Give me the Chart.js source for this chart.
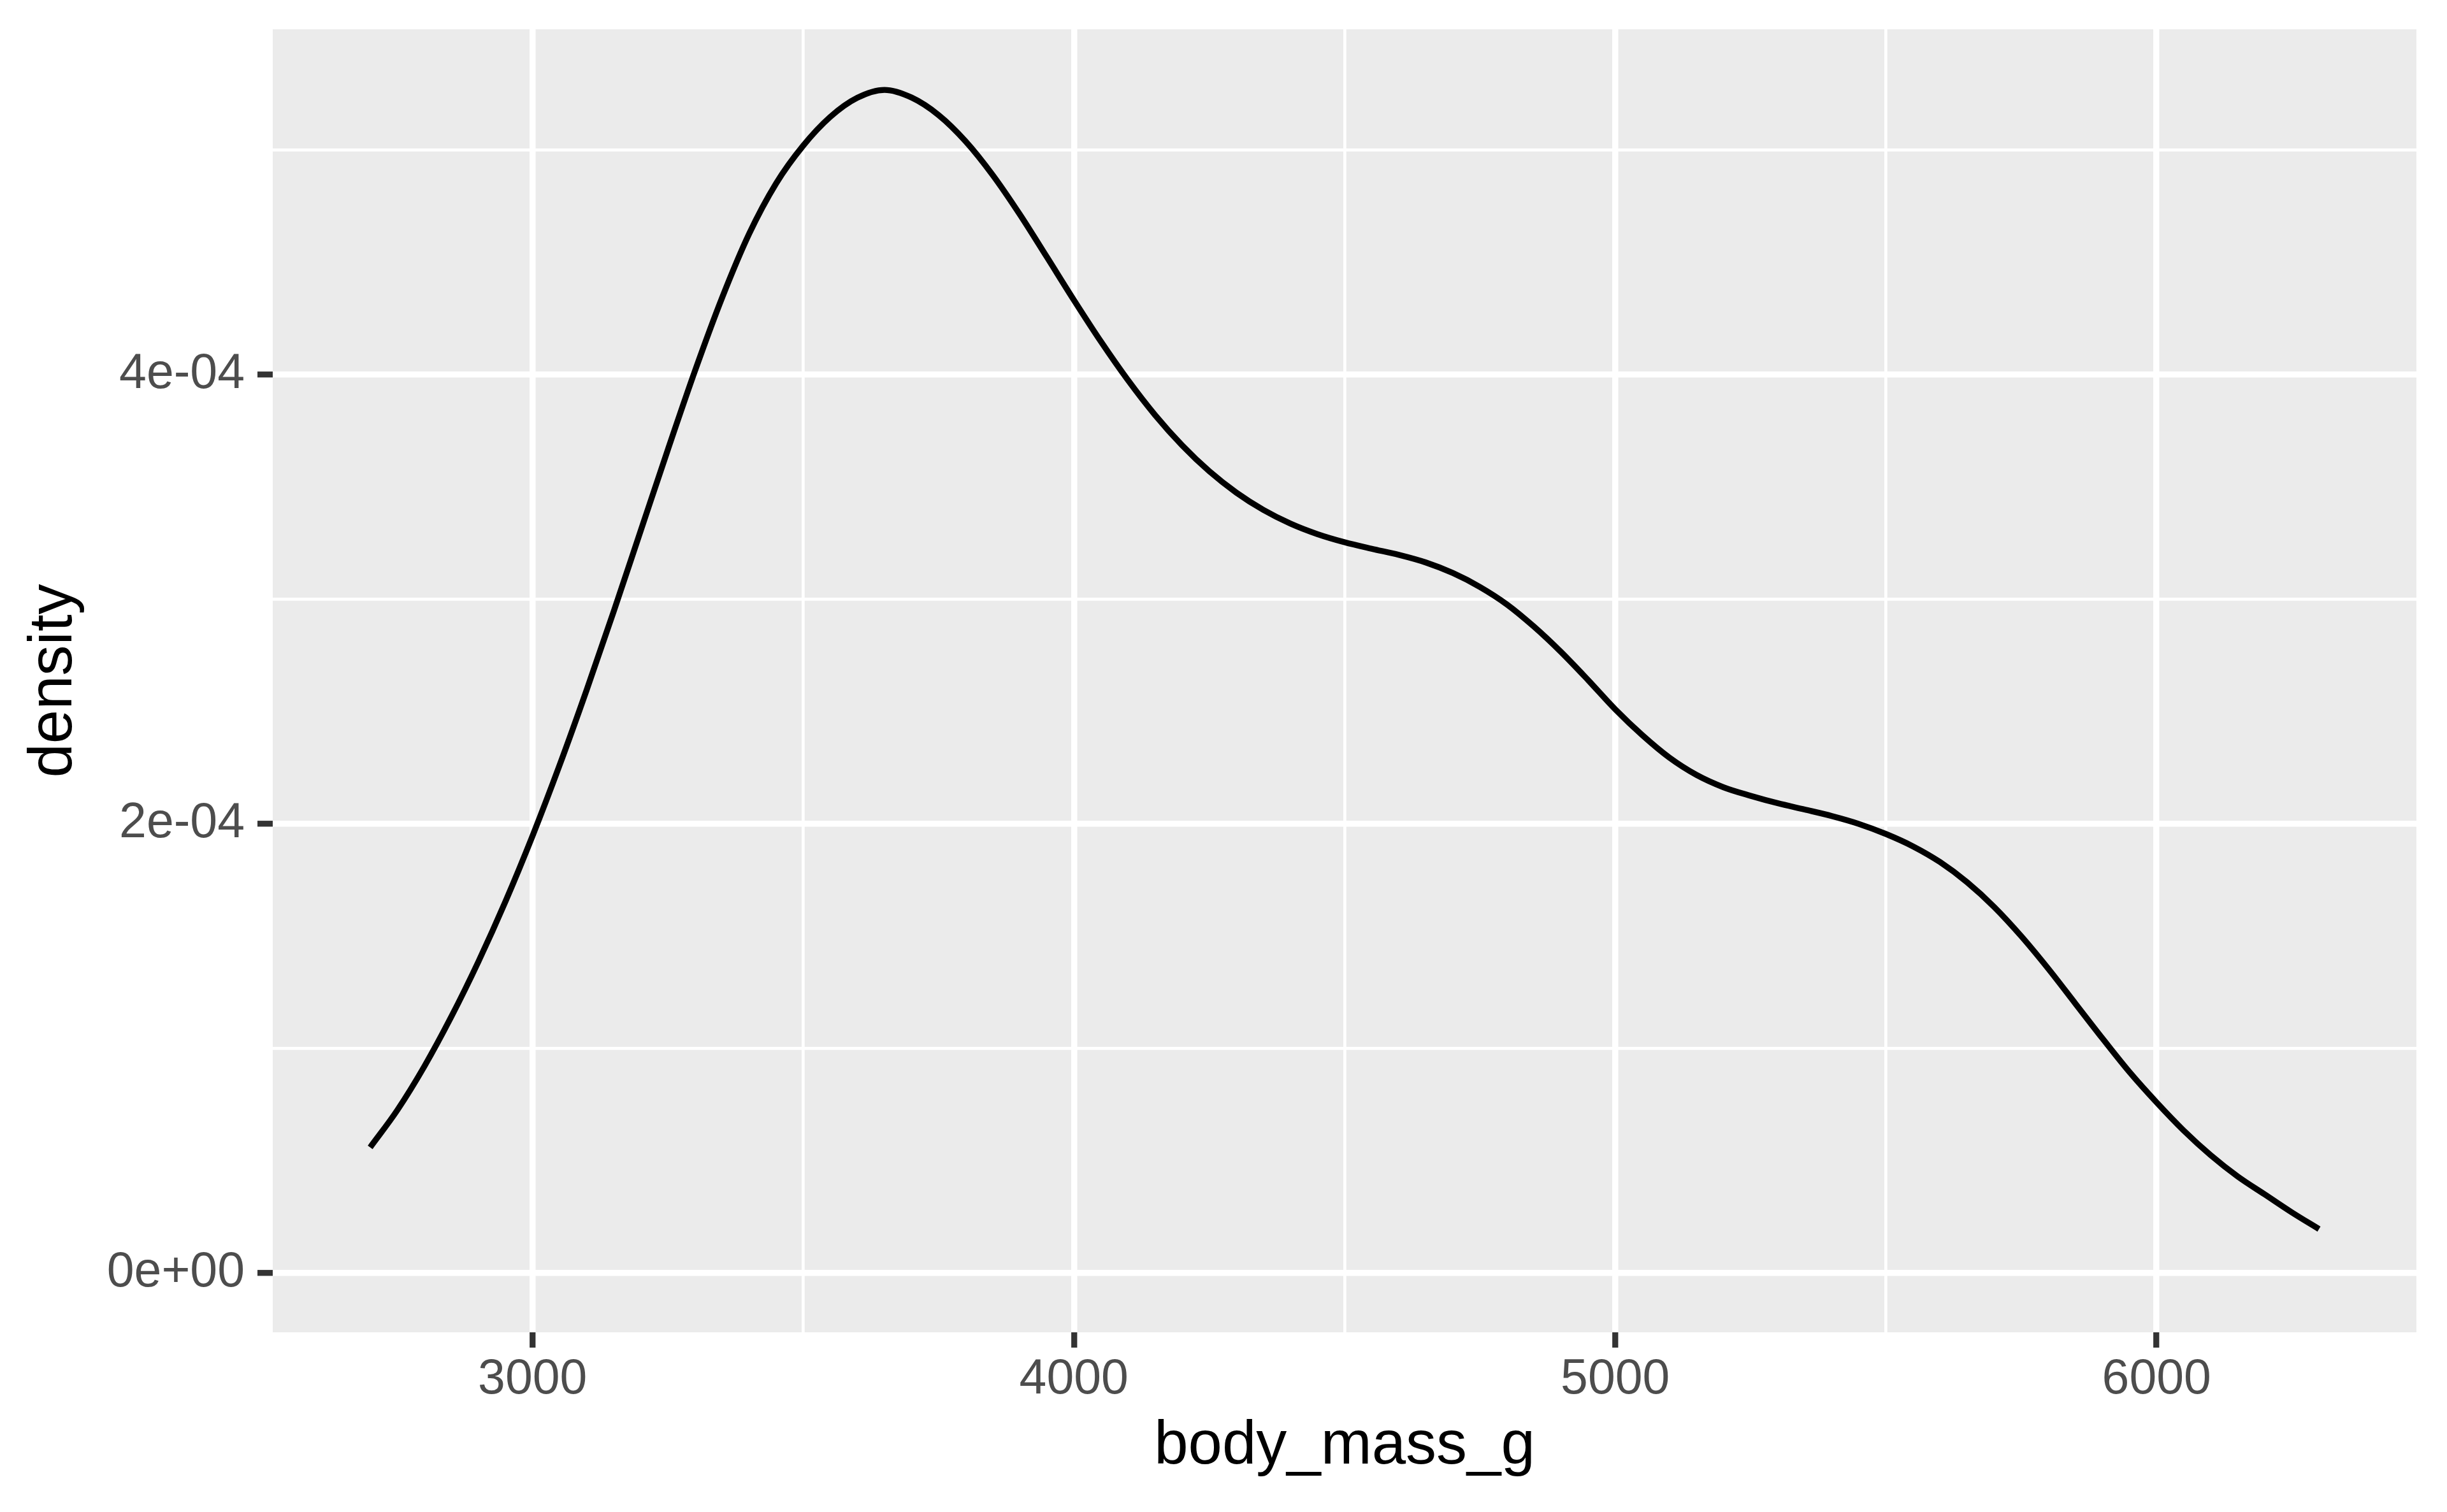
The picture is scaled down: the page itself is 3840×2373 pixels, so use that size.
<!DOCTYPE html>
<html>
<head>
<meta charset="utf-8">
<script src="https://cdn.jsdelivr.net/npm/chart.js@4/dist/chart.umd.min.js"></script>
<style>
  html, body { margin: 0; padding: 0; background: #ffffff; }
  #wrap { width: 3840px; height: 2373px; }
</style>
</head>
<body>
<div id="wrap"><canvas id="densityChart" width="3840" height="2373"></canvas></div>
<script>
// body mass (g) sampled along the curve
const bodyMass = [
  2700, 2750, 2800, 2850, 2900, 2950, 3000, 3050, 3100, 3150,
  3200, 3250, 3300, 3350, 3400, 3450, 3500, 3550, 3600, 3650,
  3700, 3750, 3800, 3850, 3900, 3950, 4000, 4050, 4100, 4150,
  4200, 4250, 4300, 4350, 4400, 4450, 4500, 4550, 4600, 4650,
  4700, 4750, 4800, 4850, 4900, 4950, 5000, 5050, 5100, 5150,
  5200, 5250, 5300, 5350, 5400, 5450, 5500, 5550, 5600, 5650,
  5700, 5750, 5800, 5850, 5900, 5950, 6000, 6050, 6100, 6150,
  6200, 6250, 6300
];

// density, in units of 1e-4
const densityE4 = [
  0.560, 0.725, 0.920, 1.142, 1.387, 1.655, 1.947, 2.262, 2.597, 2.947,
  3.307, 3.667, 4.017, 4.342, 4.627, 4.852, 5.020, 5.148, 5.233, 5.268,
  5.234, 5.156, 5.039, 4.889, 4.714, 4.524, 4.332, 4.147, 3.975, 3.820,
  3.685, 3.570, 3.475, 3.398, 3.337, 3.290, 3.254, 3.225, 3.198, 3.164,
  3.117, 3.055, 2.977, 2.878, 2.765, 2.640, 2.510, 2.395, 2.295, 2.218,
  2.163, 2.125, 2.092, 2.064, 2.035, 2.000, 1.955, 1.900, 1.830, 1.740,
  1.630, 1.500, 1.355, 1.200, 1.045, 0.895, 0.760, 0.635, 0.525, 0.430,
  0.350, 0.270, 0.196
];

const xGrid = [3000, 3500, 4000, 4500, 5000, 5500, 6000];
const xMajor = [3000, 4000, 5000, 6000];
const xTickLabels = ["3000", "4000", "5000", "6000"];

const yGrid = [0, 1e-4, 2e-4, 3e-4, 4e-4, 5e-4];
const yMajor = [0, 2e-4, 4e-4];
const yTickLabels = ["0e+00", "2e-04", "4e-04"];

const points = bodyMass.map((m, i) => ({ x: m, y: densityE4[i] * 1e-4 }));

function majorIndex(list, v) {
  return list.findIndex(m => Math.abs(m - v) < 1e-12);
}

Chart.defaults.font.family = "'Liberation Sans', Arial, Helvetica, sans-serif";

const panelBg = {
  id: "panelBg",
  beforeDraw(chart) {
    const { ctx, chartArea: a } = chart;
    ctx.save();
    ctx.fillStyle = "#ffffff";
    ctx.fillRect(0, 0, chart.width, chart.height);
    ctx.fillStyle = "#EBEBEB";
    ctx.fillRect(a.left, a.top, a.right - a.left, a.bottom - a.top);
    ctx.restore();
  }
};

const ctx = document.getElementById("densityChart").getContext("2d");

new Chart(ctx, {
  type: "line",
  data: {
    datasets: [{
      data: points,
      borderColor: "#000000",
      borderWidth: 9.3,
      pointRadius: 0,
      fill: false,
      cubicInterpolationMode: "monotone"
    }]
  },
  options: {
    responsive: false,
    animation: false,
    devicePixelRatio: 1,
    layout: { padding: { top: 46, right: 48, left: 0, bottom: 0 } },
    plugins: {
      legend: { display: false },
      tooltip: { enabled: false }
    },
    scales: {
      x: {
        type: "linear",
        min: 2520,
        max: 6480,
        afterBuildTicks: s => { s.ticks = xGrid.map(v => ({ value: v })); },
        afterFit: s => {
          s.height = 282;
          s.paddingLeft = 0;
          s.paddingRight = 0;
        },
        border: { display: false },
        grid: {
          color: "#ffffff",
          lineWidth: c => (xMajor.includes(c.tick.value) ? 9.5 : 4.7),
          tickColor: c => (xMajor.includes(c.tick.value) ? "#333333" : "rgba(0,0,0,0)"),
          tickLength: 24,
          tickWidth: 9.3
        },
        ticks: {
          autoSkip: false,
          maxRotation: 0,
          padding: 5,
          color: "#4D4D4D",
          font: { size: 77 },
          callback: v => {
            const i = xMajor.indexOf(v);
            return i >= 0 ? xTickLabels[i] : "";
          }
        },
        title: {
          display: true,
          text: "body_mass_g",
          color: "#000000",
          font: { size: 96 },
          padding: { top: 0, bottom: 45 }
        }
      },
      y: {
        type: "linear",
        min: -0.2637e-4,
        max: 5.5377e-4,
        afterBuildTicks: s => { s.ticks = yGrid.map(v => ({ value: v })); },
        afterFit: s => {
          s.width = 428;
          s.paddingTop = 0;
          s.paddingBottom = 0;
        },
        border: { display: false },
        grid: {
          color: "#ffffff",
          lineWidth: c => (majorIndex(yMajor, c.tick.value) >= 0 ? 9.5 : 4.7),
          tickColor: c => (majorIndex(yMajor, c.tick.value) >= 0 ? "#333333" : "rgba(0,0,0,0)"),
          tickLength: 24,
          tickWidth: 9.3
        },
        ticks: {
          autoSkip: false,
          padding: 20,
          color: "#4D4D4D",
          font: { size: 77 },
          callback: v => {
            const i = majorIndex(yMajor, v);
            return i >= 0 ? yTickLabels[i] : "";
          }
        },
        title: {
          display: true,
          text: "density",
          color: "#000000",
          font: { size: 96 },
          padding: { top: 28, bottom: 0 }
        }
      }
    }
  },
  plugins: [panelBg]
});
</script>
</body>
</html>
